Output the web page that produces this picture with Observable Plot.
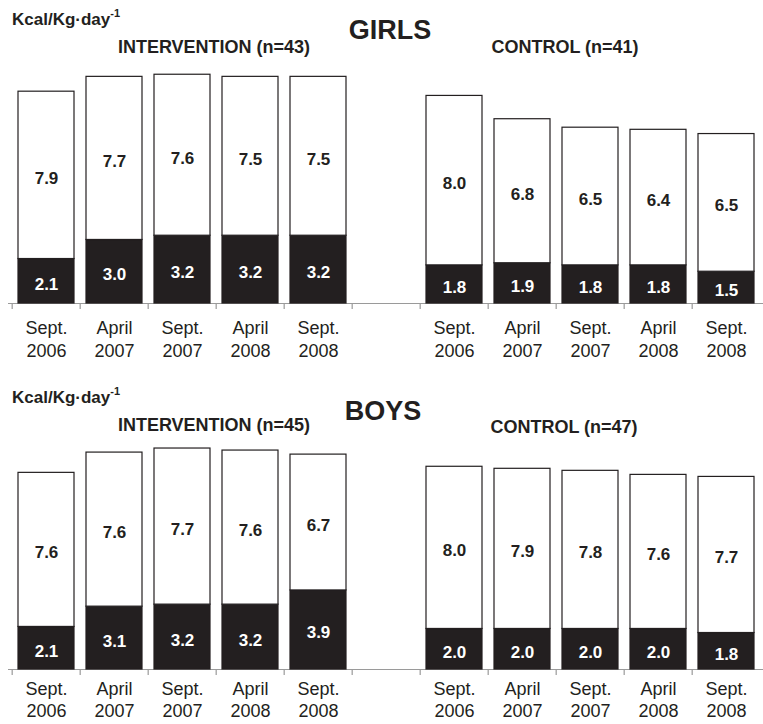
<!DOCTYPE html>
<html><head><meta charset="utf-8">
<script src="https://cdn.jsdelivr.net/npm/d3@7"></script>
<script src="https://cdn.jsdelivr.net/npm/@observablehq/plot@0.6"></script>
<style>
body{margin:0;background:#fff;font-family:"Liberation Sans",Arial,sans-serif;color:#231f20}
#root{position:relative;width:763px;height:724px;overflow:hidden;background:#fff}
.t{position:absolute;font-weight:bold;white-space:nowrap;transform:translate(-50%,-50%);line-height:1}
.k{position:absolute;font-weight:bold;white-space:nowrap;font-size:17px;line-height:1}
.k sup{font-size:11px;position:relative;top:-3px;vertical-align:top}
.panel{position:absolute;left:0}
</style></head><body><div id="root"></div>
<script>
// ---- data ----
const dates = ["Sept.\n2006", "April\n2007", "Sept.\n2007", "April\n2008", "Sept.\n2008"];
const unitLabel = "Kcal/Kg·day";
const panelTitles = ["GIRLS", "BOYS"];
const girlsGroupTitles = ["INTERVENTION (n=43)", "CONTROL (n=41)"];
const boysGroupTitles = ["INTERVENTION (n=45)", "CONTROL (n=47)"];
// black (lower) segment and white (upper) segment values
const girlsIntBlack = [2.1, 3.0, 3.2, 3.2, 3.2];
const girlsIntWhite = [7.9, 7.7, 7.6, 7.5, 7.5];
const girlsCtlBlack = [1.8, 1.9, 1.8, 1.8, 1.5];
const girlsCtlWhite = [8.0, 6.8, 6.5, 6.4, 6.5];
const boysIntBlack = [2.1, 3.1, 3.2, 3.2, 3.9];
const boysIntWhite = [7.6, 7.6, 7.7, 7.6, 6.7];
const boysCtlBlack = [2.0, 2.0, 2.0, 2.0, 1.8];
const boysCtlWhite = [8.0, 7.9, 7.8, 7.6, 7.7];

// ---- build ----
const INK = "#231f20";
const FONT = '"Liberation Sans", Arial, sans-serif';
const slots = [...dates.map((d, i) => "I" + i), "gap", ...dates.map((d, i) => "C" + i)];
const slotLabel = new Map([...dates.map((d, i) => ["I" + i, d]), ...dates.map((d, i) => ["C" + i, d])]);

function rows(intB, intW, ctlB, ctlW) {
  const out = [];
  dates.forEach((d, i) => {
    out.push({slot: "I" + i, part: "black", value: intB[i]});
    out.push({slot: "I" + i, part: "white", value: intW[i]});
  });
  dates.forEach((d, i) => {
    out.push({slot: "C" + i, part: "black", value: ctlB[i]});
    out.push({slot: "C" + i, part: "white", value: ctlW[i]});
  });
  return out;
}

function panel(data, {height, marginTop, marginBottom, tickPadding, lineHeight}) {
  const width = 763, marginLeft = 8, marginRight = 0;
  const step = (width - marginLeft - marginRight) / slots.length;
  return Plot.plot({
    width, height, marginTop, marginBottom, marginLeft, marginRight,
    style: {fontFamily: FONT, background: "white", color: INK, overflow: "visible"},
    x: {domain: slots, paddingInner: 0.18, paddingOuter: 0.09, axis: null},
    y: {domain: [0, 11], axis: null},
    marks: [
      Plot.ruleY([0], {stroke: "#9a9a9a", strokeWidth: 1.2}),
      Plot.axisX({tickSize: 6, tickFormat: () => "", label: null, stroke: "#9a9a9a", strokeWidth: 1.2, dx: -step / 2}),
      Plot.axisX({tickSize: 0, tickPadding, fontSize: 18, lineHeight, fill: INK, label: null,
        tickFormat: d => slotLabel.get(d) ?? ""}),
      Plot.barY(data, Plot.stackY({x: "slot", y: "value", z: "part",
        fill: d => d.part === "black" ? INK : "white", stroke: INK, strokeWidth: 1.2})),
      Plot.text(data, Plot.stackY({x: "slot", y: "value", z: "part",
        text: d => d.value.toFixed(1),
        fill: d => d.part === "black" ? "white" : INK,
        fontSize: 17, fontWeight: "bold", dy: 3}))
    ]
  });
}

const root = document.getElementById("root");
function addText(cls, html, x, y, size) {
  const el = document.createElement("div");
  el.className = cls;
  el.innerHTML = html;
  el.style.left = x + "px";
  el.style.top = y + "px";
  if (size) el.style.fontSize = size + "px";
  root.appendChild(el);
}

const g = panel(rows(girlsIntBlack, girlsIntWhite, girlsCtlBlack, girlsCtlWhite),
  {height: 362, marginTop: 70, marginBottom: 59, tickPadding: 14, lineHeight: 1.28});
g.classList.add("panel"); g.style.top = "0px";
root.appendChild(g);

const b = panel(rows(boysIntBlack, boysIntWhite, boysCtlBlack, boysCtlWhite),
  {height: 362, marginTop: 84, marginBottom: 55, tickPadding: 10, lineHeight: 1.22});
b.classList.add("panel"); b.style.top = "362px";
root.appendChild(b);

addText("k", unitLabel + "<sup>-1</sup>", 12, 11);
addText("t", panelTitles[0], 390, 30, 27);
addText("t", girlsGroupTitles[0], 214, 47, 18);
addText("t", girlsGroupTitles[1], 565, 47, 18);

addText("k", unitLabel + "<sup>-1</sup>", 12, 389);
addText("t", panelTitles[1], 383, 411, 27);
addText("t", boysGroupTitles[0], 214, 425, 18);
addText("t", boysGroupTitles[1], 564, 427, 18);
</script></body></html>
